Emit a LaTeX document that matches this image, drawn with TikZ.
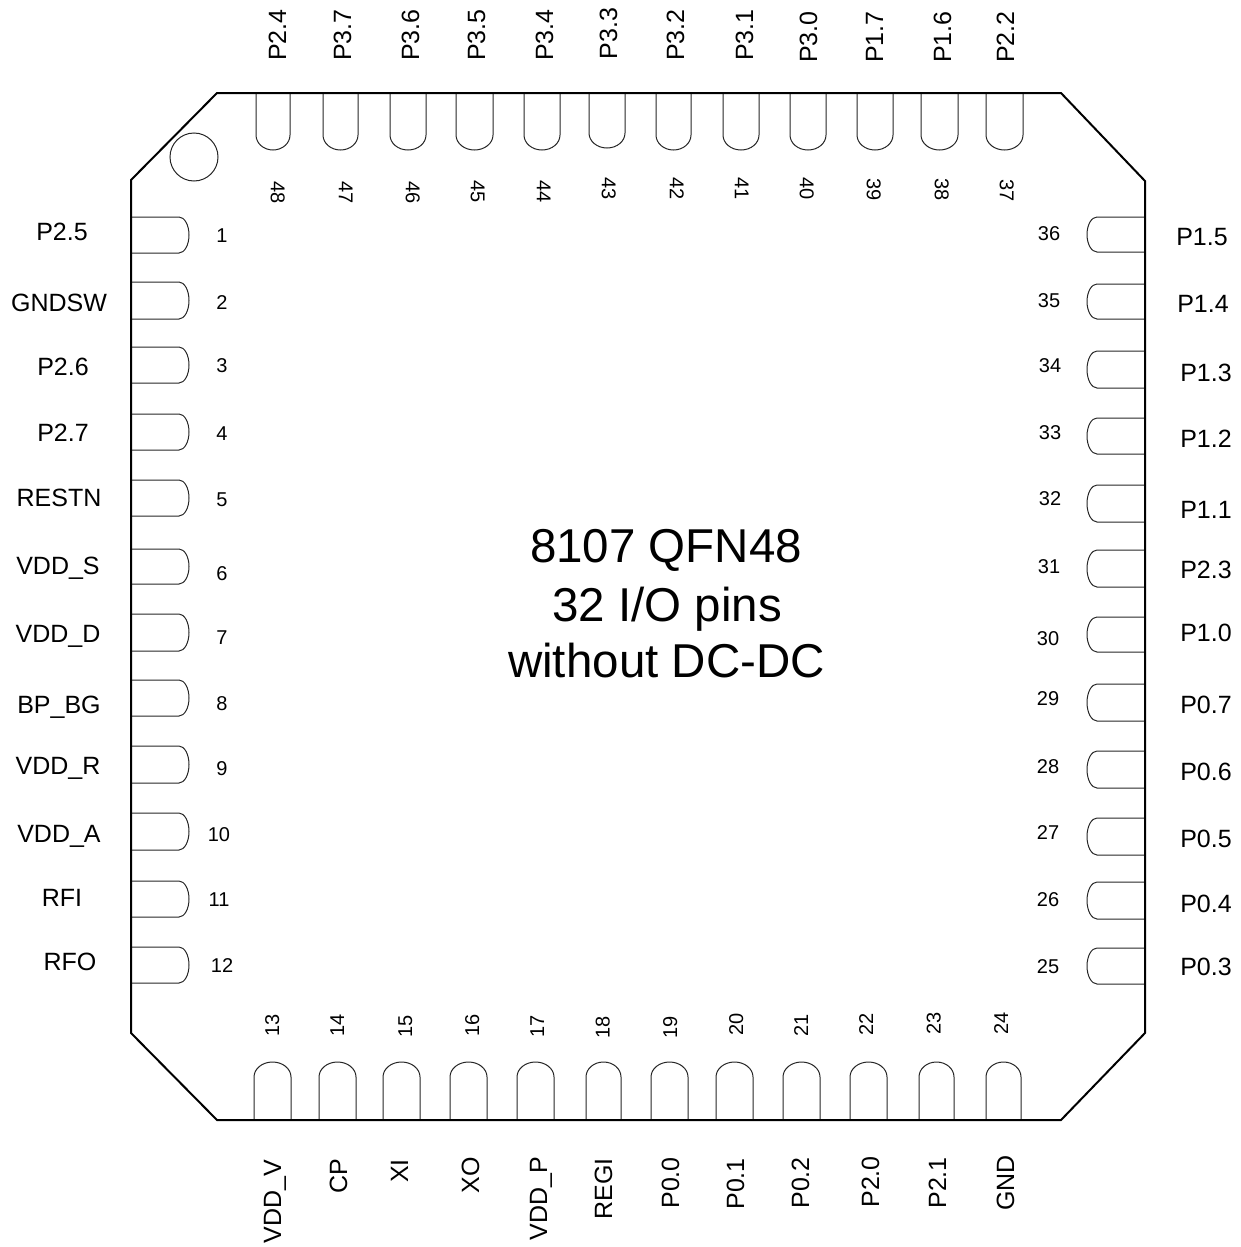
\documentclass[tikz,border=0pt]{standalone}
\usepackage{fontspec}
\setmainfont{Liberation Sans}
\begin{document}
\begin{tikzpicture}[x=1pt,y=-1pt,
  body/.style={line width=2pt,line join=miter,black},
  pinshape/.style={line width=1pt,draw=black!85},
  pinlabel/.style={inner sep=0pt,text height=18pt,text depth=0pt,font=\fontsize{25}{25}\selectfont},
  pinnum/.style={inner sep=0pt,text height=14.3pt,text depth=0pt,font=\fontsize{20}{20}\selectfont},
  title/.style={inner sep=0pt,text height=34pt,text depth=0pt,font=\fontsize{47.5}{47.5}\selectfont}]
\useasboundingbox (0,0) rectangle (1240,1247);
% pins
\foreach \a/\b in {217/253,282/319,347/383,414/450,480/516,549/584,614/651,680/716,746/783,813/850,881/917,947/983}{
  \draw[pinshape] (131,\a) -- (179,\a) arc[start angle=-90,end angle=90,x radius=10,y radius={(\b-\a)/2}] -- (131,\b);
}
\foreach \a/\b in {217/252,284/319,351/388,418/454,485/522,550/587,617/652,684/721,751/788,818/855,882/919,948/984}{
  \draw[pinshape] (1145,\a) -- (1097,\a) arc[start angle=-90,end angle=-270,x radius=10,y radius={(\b-\a)/2}] -- (1145,\b);
}
\foreach \a/\b/\e in {256/290/135,323/358/135,390/426/135,456/493/135,524/560/135,589/625/133,656/691/135,723/759/135,790/826/135,857/893/135,921/958/135,986/1023/135}{
  \draw[pinshape] (\a,93) -- (\a,\e) arc[start angle=180,end angle=0,x radius={(\b-\a)/2},y radius=15] -- (\b,93);
}
\foreach \a/\b in {254/291,319/356,383/420,450/487,517/554,586/621,651/688,716/753,783/820,850/887,919/954,986/1021}{
  \draw[pinshape] (\a,1120) -- (\a,1077) arc[start angle=180,end angle=360,x radius={(\b-\a)/2},y radius=15] -- (\b,1120);
}
\draw[pinshape] (194,157) circle[radius=24];
% package outline
\draw[body] (217,93) -- (1061,93) -- (1145,181) -- (1145,1033) -- (1061,1120) -- (217,1120) -- (131,1033) -- (131,180) -- cycle;
% left side
\foreach \t/\x/\y [count=\i] in {P2.5/62/231,GNDSW/59/302,P2.6/63/366,P2.7/63/432,RESTN/59/497,VDD\_S/58/565,VDD\_D/58/633,BP\_BG/59/704,VDD\_R/58/765,VDD\_A/59/833,RFI/62/897,RFO/70/961}{
  \node[pinlabel] (LL\i) at (\x,\y) {\t};
}
\foreach \x/\y [count=\i] in {222/235,222/302,222/365,222/433,222/499,222/573,222/637,222/703,222/768,219/834,219/899,222/965}{
  \node[pinnum] (LN\i) at (\x,\y) {\i};
}
% right side
\foreach \t/\x/\y [count=\i] in {P1.5/1202/236,P1.4/1203/303,P1.3/1206/372,P1.2/1206/438,P1.1/1206/509,P2.3/1206/569,P1.0/1206/632,P0.7/1206/704,P0.6/1206/771,P0.5/1206/838,P0.4/1206/903,P0.3/1206/966}{
  \node[pinlabel] (RL\i) at (\x,\y) {\t};
}
\foreach \n/\x/\y in {36/1049/233,35/1049/300,34/1050/365,33/1050/432,32/1050/498,31/1049/566,30/1048/638,29/1048/698,28/1048/766,27/1048/832,26/1048/899,25/1048/966}{
  \node[pinnum] (RN\n) at (\x,\y) {\n};
}
% top side
\foreach \t/\x/\y [count=\i] in {P2.4/277/61,P3.7/342/61,P3.6/410/61,P3.5/476/61,P3.4/544/61,P3.3/608/59.5,P3.2/675/61,P3.1/744/61,P3.0/808/63,P1.7/874/63,P1.6/942/63,P2.2/1005/63}{
  \node[pinlabel,rotate=90,anchor=west] (TL\i) at (\x,\y) {\t};
}
\foreach \n/\x/\y in {48/278/193,47/346/193,46/413/192.5,45/478/192,44/544/192,43/609/189,42/677/189,41/742/189,40/807/189,39/874/190,38/942/190,37/1007/191}{
  \node[pinnum,rotate=-90] (TN\n) at (\x,\y) {\n};
}
% bottom side
\foreach \t/\x/\y [count=\i] in {VDD\_V/272/1160,CP/338/1159,XI/399/1159,XO/470/1157,VDD\_P/538/1157,REGI/603/1158,P0.0/670/1157,P0.1/735/1158,P0.2/800/1157,P2.0/870/1156,P2.1/937/1157,GND/1005/1155}{
  \node[pinlabel,rotate=90,anchor=east] (BL\i) at (\x,\y) {\t};
}
\foreach \n/\x/\y in {13/272/1025,14/337/1025,15/405/1026,16/472/1025,17/537/1026,18/602.5/1027,19/670/1027,20/736/1024,21/801/1025,22/866/1024,23/933.5/1023,24/1001/1023}{
  \node[pinnum,rotate=90] (BN\n) at (\x,\y) {\n};
}
% centre title
\node[title] (t1) at (666,545.5) {8107 QFN48};
\node[title] (t2) at (667,604.5) {32 I/O pins};
\node[title] (t3) at (666.5,660) {without DC-DC};
\end{tikzpicture}
\end{document}
